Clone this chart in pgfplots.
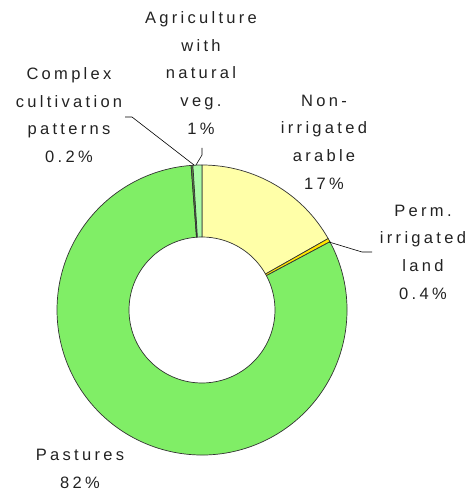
\documentclass[border=0pt]{standalone}
\usepackage{fontspec}
\setmainfont[LetterSpace=20]{Liberation Sans}
\usepackage{pgfplots}
\usepackage{pgfplotstable}
\pgfplotsset{compat=1.18}
\usetikzlibrary{calc}

\definecolor{nonirr}{HTML}{FFFFA8}
\definecolor{permirr}{HTML}{FFE600}
\definecolor{past}{HTML}{80EE66}
\definecolor{compl}{HTML}{5A8A40}
\definecolor{agri}{HTML}{AAFAA6}
\definecolor{txt}{HTML}{222222}
\definecolor{edge}{HTML}{333333}

% land use shares, clockwise from 12 o'clock
\pgfplotstableread{
value color
16.8  nonirr
0.4   permirr
81.6  past
0.2   compl
1.0   agri
}\landuse

\begin{document}
\begin{tikzpicture}
\begin{axis}[
    x=1pt, y=1pt,
    xmin=0, xmax=467, ymin=0, ymax=493,
    hide axis, clip=false,
    anchor=origin, at={(0,0)},
]
\addplot[draw=none] coordinates {(0,0) (467,493)};

\def\cx{202}\def\cy{183}
\def\cum{0}
\pgfplotsforeachungrouped \i in {0,...,4}{%
  \pgfplotstablegetelem{\i}{value}\of\landuse \let\v\pgfplotsretval
  \pgfplotstablegetelem{\i}{color}\of\landuse \let\c\pgfplotsretval
  \pgfmathsetmacro\a{90-3.6*\cum}%
  \pgfmathsetmacro\b{90-3.6*(\cum+\v)}%
  \edef\temp{\noexpand\filldraw[fill=\c, draw=edge, line width=0.7pt, line join=round]
    (axis cs:\cx,\cy) ++(\a:145pt) arc[start angle=\a, end angle=\b, radius=145pt]
    -- ([shift={(\b:73pt)}]axis cs:\cx,\cy)
    arc[start angle=\b, end angle=\a, radius=73pt] -- cycle;}%
  \temp
  \pgfmathsetmacro\cum{\cum+\v}%
}

% leader lines
\draw[black, line width=0.6pt] (axis cs:125,376) -- (axis cs:132,376) -- (axis cs:194,328);
\draw[black, line width=0.6pt] (axis cs:202,345) -- (axis cs:202,338) -- (axis cs:196,328);
\draw[black, line width=0.6pt] (axis cs:329,251) -- (axis cs:362,241) -- (axis cs:372,241);

% labels
\tikzset{lab/.style={align=center, text=txt, font=\fontsize{16.5}{27.7}\selectfont, inner sep=0pt}}
\node[lab] at (axis cs:201,420) {Agriculture\\with\\natural\\veg.\\1\%};
\node[lab] at (axis cs:69,378) {Complex\\cultivation\\patterns\\0.2\%};
\node[lab] at (axis cs:324,351) {Non-\\irrigated\\arable\\17\%};
\node[lab] at (axis cs:423,241) {Perm.\\irrigated\\land\\0.4\%};
\node[lab] at (axis cs:80,24) {Pastures\\82\%};
\end{axis}
\end{tikzpicture}
\end{document}
